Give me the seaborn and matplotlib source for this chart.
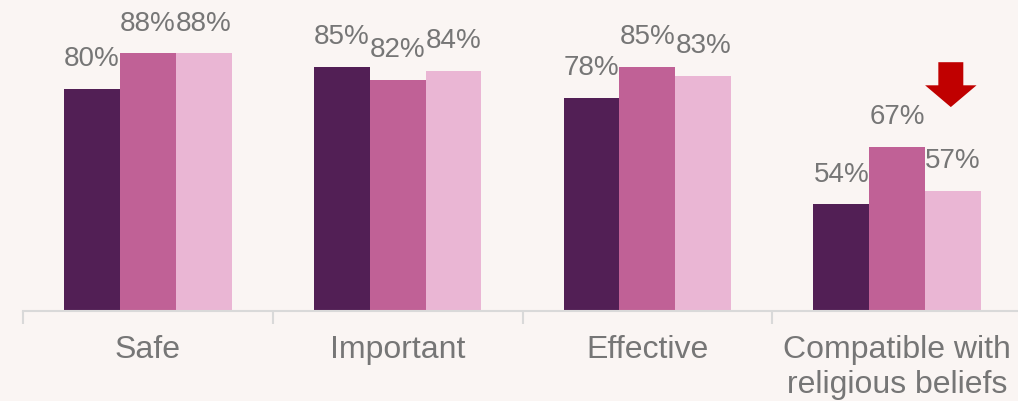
import matplotlib
matplotlib.use("Agg")
import matplotlib.pyplot as plt
import seaborn as sns
import pandas as pd
import numpy as np
from matplotlib.patches import Polygon

categories = ["Safe", "Important", "Effective", "Compatible with\nreligious beliefs"]
series = ["Wave 1", "Wave 2", "Wave 3"]
wave1 = [80, 85, 78, 54]
wave2 = [88, 82, 85, 67]
wave3 = [88, 84, 83, 57]
colors = ["#521F55", "#C06196", "#EAB6D4"]

bg = "#FAF5F3"
text_grey = "#767676"
line_grey = "#D9D9D9"

df = pd.DataFrame({
    "category": categories * 3,
    "series": [s for s in series for _ in categories],
    "value": wave1 + wave2 + wave3,
})

sns.set_theme(style="white")
plt.rcParams["font.family"] = ["Liberation Sans", "DejaVu Sans"]

fig = plt.figure(figsize=(10.18, 4.01), dpi=100, facecolor=bg)
ax = fig.add_axes([23 / 1018, 90 / 401, 999 / 1018, 311 / 401])
ax.set_facecolor(bg)

sns.barplot(data=df, x="category", y="value", hue="series", order=categories,
            hue_order=series, palette=colors, width=0.67, saturation=1,
            edgecolor="none", linewidth=0, legend=False, ax=ax)

for cont in ax.containers:
    ax.bar_label(cont, fmt="%d%%", padding=12, fontsize=20, color=text_grey)

ax.set_ylim(30, 100)
ax.set_xlim(-0.5, 3.5)
ax.set_xlabel("")
ax.set_ylabel("")
ax.set_yticks([])
for side in ["top", "right", "left"]:
    ax.spines[side].set_visible(False)
ax.spines["bottom"].set_color(line_grey)
ax.spines["bottom"].set_linewidth(1.5)

ax.set_xticks(range(len(categories)))
ax.set_xticklabels(categories, fontsize=23, color=text_grey, linespacing=1.25)
ax.set_xticks(np.arange(-0.5, len(categories), 1.0), minor=True)
ax.tick_params(axis="x", which="major", length=0, pad=17)
ax.tick_params(axis="x", which="minor", length=9, width=1.5, color=line_grey, bottom=True)

# downward arrow above the last group, flagging the drop
cx = len(categories) - 1 + 0.215
arrow = Polygon([(cx - 0.05, 86), (cx + 0.05, 86), (cx + 0.05, 80.8),
                 (cx + 0.103, 80.8), (cx, 75.9), (cx - 0.103, 80.8),
                 (cx - 0.05, 80.8)], closed=True, facecolor="#C00000",
                edgecolor="none", clip_on=False)
ax.add_patch(arrow)

fig.savefig("out.png", dpi=100, facecolor=bg)
